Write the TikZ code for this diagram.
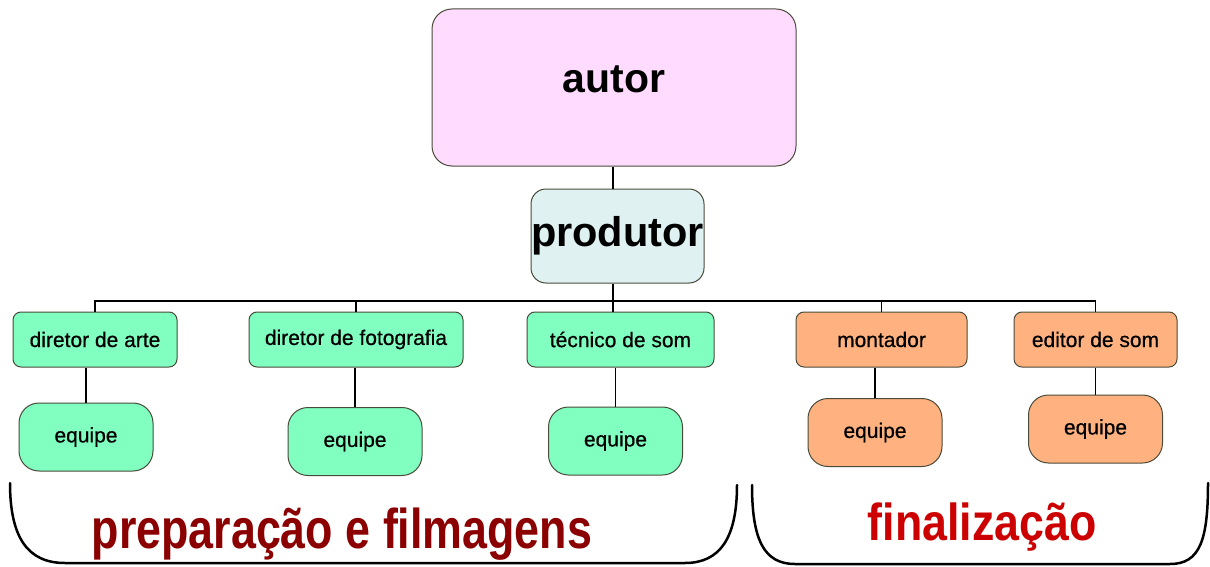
\documentclass[tikz,border=0pt]{standalone}
\usepackage{fontspec}
\setmainfont{Liberation Sans}
\newfontfamily\boxfont{Liberation Sans}[FakeBold=0.6]
\usepackage{tikz}

\definecolor{autorpink}{HTML}{FFDBFF}
\definecolor{prodcyan}{HTML}{DFF1F1}
\definecolor{mint}{HTML}{80FFC0}
\definecolor{salmon}{HTML}{FFB27F}
\definecolor{boxline}{HTML}{4A4A3A}
\definecolor{darkred}{HTML}{8B0000}
\definecolor{brightred}{HTML}{CC0000}

\begin{document}
\begin{tikzpicture}[x=1pt, y=-1pt,
    box/.style={draw=boxline, line width=1pt, inner sep=0pt, font=\boxfont\fontsize{21}{24}\selectfont},
    role/.style={box, rounded corners=8pt, minimum height=55pt},
    team/.style={box, rounded corners=20pt, minimum width=134pt, minimum height=68pt},
    prep/.style={fill=mint},
    fin/.style={fill=salmon},
    link/.style={line width=1.3pt},
    phase/.style={line width=2.5pt, line cap=round},
    phasetext/.style={font=\bfseries\fontsize{#1}{#1}\selectfont, anchor=base, transform shape}]
        \useasboundingbox (0,0) rectangle (1210,567);

        \node[box, fill=autorpink, rounded corners=20pt, minimum width=364pt, minimum height=157pt, text depth=16pt, font=\bfseries\fontsize{41}{45}\selectfont] (autor) at (614, 87.5) {autor};
        \node[box, fill=prodcyan, rounded corners=15pt, minimum width=173pt, minimum height=94pt, font=\bfseries\fontsize{41.5}{45}\selectfont] (produtor) at (617.5, 236) {produtor};

        \node[role, prep, minimum width=164pt] (arte) at (95, 339.5) {diretor de arte};
        \node[role, prep, minimum width=214pt] (foto) at (356, 339.5) {diretor de fotografia};
        \node[role, prep, minimum width=187pt] (tecnico) at (620.5, 339.5) {técnico de som};
        \node[role, fin, minimum width=171pt] (montador) at (881.5, 339.5) {montador};
        \node[role, fin, minimum width=163pt] (editor) at (1095.5, 339.5) {editor de som};

        \node[team, prep] (eqarte) at (86, 437) {equipe};
        \node[team, prep] (eqfoto) at (355, 441.5) {equipe};
        \node[team, prep] (eqtecnico) at (615.5, 441) {equipe};
        \node[team, fin] (eqmontador) at (875, 432.5) {equipe};
        \node[team, fin] (eqeditor) at (1095.5, 429) {equipe};

        \coordinate (bus) at (613, 301);
        \draw[link] (autor.south -| bus) -- (produtor.north -| bus);
        \draw[link] (produtor.south -| bus) -- (bus);
        \draw[link] (bus) -| (arte.north);
        \draw[link] (bus) -| (foto.north);
        \draw[link] (bus) -- (tecnico.north -| bus);
        \draw[link] (bus) -| (montador.north);
        \draw[link] (bus) -| (editor.north);

        \draw[link] (eqarte.north |- arte.south) -- (eqarte.north);
        \draw[link] (eqfoto.north |- foto.south) -- (eqfoto.north);
        \draw[link] (eqtecnico.north |- tecnico.south) -- (eqtecnico.north);
        \draw[link] (eqmontador.north |- montador.south) -- (eqmontador.north);
        \draw[link] (eqeditor.north |- editor.south) -- (eqeditor.north);

        % the two phases
        \draw[phase] (10, 483) .. controls (10, 538) and (28, 563) .. (65, 563) -- (685, 563) .. controls (720, 563) and (737, 538) .. (737, 485);
        \draw[phase] (752, 485) .. controls (752, 540) and (764, 564) .. (795, 564) -- (1170, 564) .. controls (1200, 564) and (1208, 540) .. (1208, 483);

        \node[phasetext=56, text=darkred, xscale=0.8] (preparacao) at (342, 548) {preparação e filmagens};
        \node[phasetext=52, text=brightred, xscale=0.86] (finalizacao) at (982, 540) {finalização};
    \end{tikzpicture}
\end{document}
